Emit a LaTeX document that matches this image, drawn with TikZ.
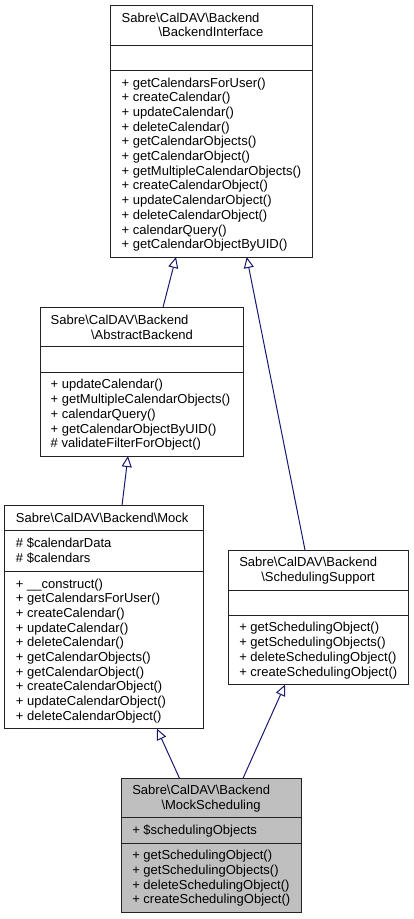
\documentclass[tikz,border=0pt]{standalone}
\usepackage{fontspec}
\setmainfont{Liberation Sans}
\usetikzlibrary{arrows.meta}
\definecolor{edgeblue}{HTML}{191970}
\definecolor{boxline}{HTML}{222222}
\definecolor{msfill}{HTML}{BFBFBF}
\newcommand{\BSL}{\textbackslash}
% #1 prefix, #2 x, #3 ytop, #4 ybot, #5 number of lines, #6 list of lines
\newcommand{\complines}[6]{%
  \foreach \lbl [count=\i from 0] in {#6} {%
    \pgfmathsetmacro{\yy}{(#3+#4)/2+(\i-(#5-1)/2)*14.7+4}%
    \node[txt] (#1-\i) at (#2,\yy) {\lbl};
  }}
\tikzset{
  txt/.style={anchor=base west, inner sep=0pt, outer sep=0pt, font=\fontsize{13}{14.7}\selectfont},
  ctxt/.style={txt, anchor=base},
  umlbox/.style={draw=boxline, line width=1pt, anchor=north west, inner sep=0pt, outer sep=0pt},
  divider/.style={draw=boxline, line width=1pt},
  inherit/.style={draw=edgeblue, line width=1pt, -{Triangle[length=11pt,width=10pt,fill=white]}}
}
\begin{document}
\begin{tikzpicture}[x=1pt,y=-1pt]
\useasboundingbox (0,0) rectangle (413,919);

% ---------- BackendInterface ----------
\node[umlbox, minimum width=202pt, minimum height=251.5pt] (bi) at (110,5.5) {};
\draw[divider] (110,45.7) -- (312,45.7);
\draw[divider] (110,70.7) -- (312,70.7);
\node[txt] (bi-t1) at (121.7,22.25) {Sabre\BSL CalDAV\BSL Backend};
\node[ctxt] (bi-t2) at (211,36.95) {\BSL BackendInterface};
\complines{bim}{121.7}{70.7}{257}{12}{+ getCalendarsForUser(),+ createCalendar(),+ updateCalendar(),+ deleteCalendar(),+ getCalendarObjects(),+ getCalendarObject(),+ getMultipleCalendarObjects(),+ createCalendarObject(),+ updateCalendarObject(),+ deleteCalendarObject(),+ calendarQuery(),+ getCalendarObjectByUID()}

% ---------- AbstractBackend ----------
\node[umlbox, minimum width=202.6pt, minimum height=148.7pt] (ab) at (40.7,307.3) {};
\draw[divider] (40.7,346.7) -- (243.3,346.7);
\draw[divider] (40.7,372.7) -- (243.3,372.7);
\node[txt] (ab-t1) at (50.7,324.3) {Sabre\BSL CalDAV\BSL Backend};
\node[ctxt] (ab-t2) at (142,339) {\BSL AbstractBackend};
\complines{abm}{50.7}{372.7}{456}{5}{+ updateCalendar(),+ getMultipleCalendarObjects(),+ calendarQuery(),+ getCalendarObjectByUID(),\# validateFilterForObject()}

% ---------- Mock ----------
\node[umlbox, minimum width=198.6pt, minimum height=223pt] (mock) at (4.7,505.7) {};
\draw[divider] (4.7,530.7) -- (203.3,530.7);
\draw[divider] (4.7,571.7) -- (203.3,571.7);
\node[txt] (mock-t1) at (16,522.2) {Sabre\BSL CalDAV\BSL Backend\BSL Mock};
\complines{mocka}{16}{530.7}{571.7}{2}{\# \$calendarData,\# \$calendars}
\complines{mockm}{16}{571.7}{728.7}{10}{+ \_\_construct(),+ getCalendarsForUser(),+ createCalendar(),+ updateCalendar(),+ deleteCalendar(),+ getCalendarObjects(),+ getCalendarObject(),+ createCalendarObject(),+ updateCalendarObject(),+ deleteCalendarObject()}

% ---------- SchedulingSupport ----------
\node[umlbox, minimum width=180pt, minimum height=134.7pt] (ss) at (228,550) {};
\draw[divider] (228,590) -- (408,590);
\draw[divider] (228,615.3) -- (408,615.3);
\node[txt] (ss-t1) at (239.3,566.65) {Sabre\BSL CalDAV\BSL Backend};
\node[ctxt] (ss-t2) at (318,581.35) {\BSL SchedulingSupport};
\complines{ssm}{239.3}{615.3}{684.7}{4}{+ getSchedulingObject(),+ getSchedulingObjects(),+ deleteSchedulingObject(),+ createSchedulingObject()}

% ---------- MockScheduling ----------
\node[umlbox, fill=msfill, minimum width=180pt, minimum height=134pt] (ms) at (121,778.3) {};
\draw[divider] (121,817.7) -- (301,817.7);
\draw[divider] (121,843.3) -- (301,843.3);
\node[txt] (ms-t1) at (132.3,794.65) {Sabre\BSL CalDAV\BSL Backend};
\node[ctxt] (ms-t2) at (211,809.35) {\BSL MockScheduling};
\complines{msa}{132.3}{817.7}{843.3}{1}{+ \$schedulingObjects}
\complines{msm}{132.3}{843.3}{912.3}{4}{+ getSchedulingObject(),+ getSchedulingObjects(),+ deleteSchedulingObject(),+ createSchedulingObject()}

% ---------- inheritance connectors ----------
\coordinate (abTop) at (163,307.3);
\coordinate (biBotL) at (176,257);
\coordinate (ssTop) at (305,550);
\coordinate (biBotR) at (246.7,257);
\coordinate (mockTop) at (122,505.7);
\coordinate (abBot) at (128,456);
\coordinate (msTopL) at (179.5,778.3);
\coordinate (mockBot) at (157,728.7);
\coordinate (msTopR) at (243,778.3);
\coordinate (ssBot) at (285,684.7);

\draw[inherit] (abTop) -- (biBotL);
\draw[inherit] (ssTop) -- (biBotR);
\draw[inherit] (mockTop) -- (abBot);
\draw[inherit] (msTopL) -- (mockBot);
\draw[inherit] (msTopR) -- (ssBot);
\end{tikzpicture}
\end{document}
